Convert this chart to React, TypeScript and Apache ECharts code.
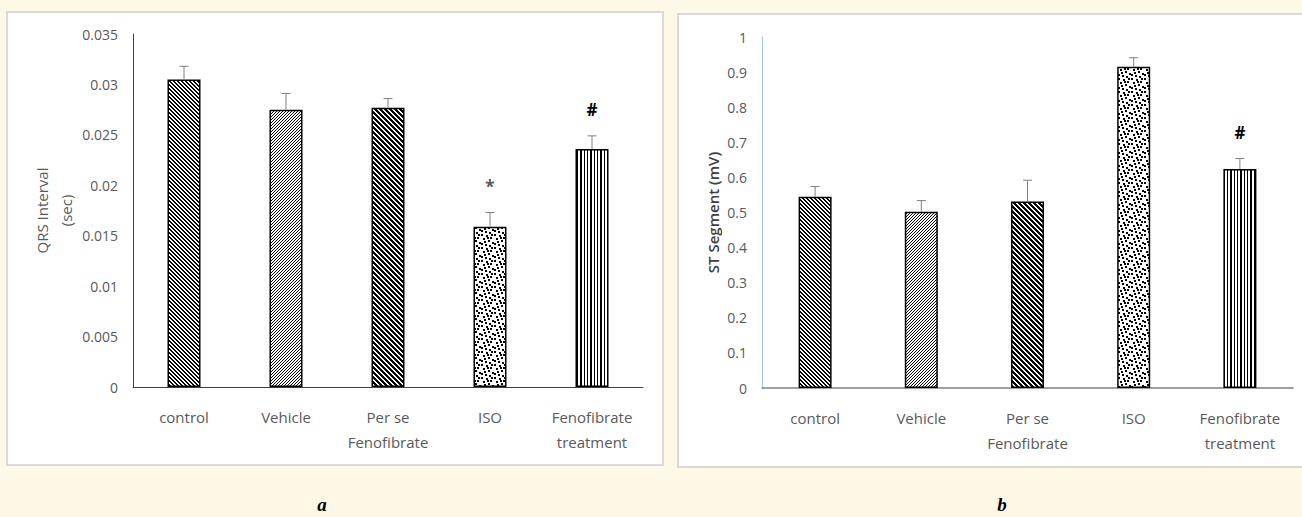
import React, { useEffect, useRef } from "react";
import * as echarts from "echarts";

const categories = ["control", "Vehicle", "Per se\nFenofibrate", "ISO", "Fenofibrate\ntreatment"];

const qrsValues = [0.0305, 0.0275, 0.0277, 0.0159, 0.0236];
const qrsErrors = [0.0013, 0.0016, 0.0009, 0.0014, 0.0013];
const qrsMarks = ["", "", "", "*", "#"];
const qrsMin = 0;
const qrsMax = 0.035;
const qrsInterval = 0.005;

const stValues = [0.545, 0.502, 0.531, 0.915, 0.624];
const stErrors = [0.029, 0.032, 0.061, 0.026, 0.03];
const stMarks = ["", "", "", "", "#"];
const stMin = 0;
const stMax = 1;
const stInterval = 0.1;

const FONT = '"Open Sans", "Noto Sans", sans-serif';

function makeTile(w: number, h: number, isBlack: (x: number, y: number) => boolean) {
  const c = document.createElement("canvas");
  c.width = w;
  c.height = h;
  const ctx = c.getContext("2d")!;
  ctx.fillStyle = "#ffffff";
  ctx.fillRect(0, 0, w, h);
  ctx.fillStyle = "#000000";
  for (let y = 0; y < h; y++) {
    for (let x = 0; x < w; x++) {
      if (isBlack(x, y)) ctx.fillRect(x, y, 1, 1);
    }
  }
  return { image: c as any, repeat: "repeat", imageWidth: w, imageHeight: h };
}

function makePatterns() {
  const mod = (a: number, n: number) => ((a % n) + n) % n;
  const control = makeTile(8, 8, (x, y) => mod(x - y, 4) < 2);
  const vehicle = makeTile(6, 6, (x, y) => mod(x + y, 3) === 0);
  const perse = makeTile(10, 10, (x, y) => mod(x - y, 5) < 3);
  const dots = [
    [0, 0], [5, 1], [9, 3], [2, 4], [7, 6], [11, 8], [0, 9], [4, 10], [8, 11], [3, 7], [10, 0], [6, 3],
  ];
  const iso = makeTile(13, 13, (x, y) =>
    dots.some(([dx, dy]) => mod(x - dx, 13) < 2 && mod(y - dy, 13) < 2)
  );
  const cols = [0, 1, 4, 7];
  const feno = makeTile(10, 4, (x) => cols.includes(x));
  return [control, vehicle, perse, iso, feno];
}

function errorSeries(
  axisIndex: number,
  values: number[],
  errors: number[],
  marks: string[],
  markColors: string[]
) {
  return {
    type: "custom",
    xAxisIndex: axisIndex,
    yAxisIndex: axisIndex,
    z: 5,
    data: values.map((v, i) => [i, v, v + errors[i]]),
    renderItem: (params: any, api: any) => {
      const i = params.dataIndex;
      const x = api.value(0);
      const lo = api.coord([x, api.value(1)]);
      const hi = api.coord([x, api.value(2)]);
      const stroke = { stroke: "#808080", lineWidth: 1 };
      const children: any[] = [
        { type: "line", shape: { x1: lo[0], y1: lo[1], x2: hi[0], y2: hi[1] }, style: stroke },
        { type: "line", shape: { x1: hi[0] - 4.5, y1: hi[1], x2: hi[0] + 4.5, y2: hi[1] }, style: stroke },
      ];
      if (marks[i]) {
        children.push({
          type: "text",
          style: {
            text: marks[i],
            x: hi[0],
            y: hi[1] - 26,
            align: "center",
            verticalAlign: "middle",
            fill: markColors[i],
            font: `bold 17px ${FONT}`,
          },
        });
      }
      return { type: "group", children };
    },
  };
}

export default function App() {
  const ref = useRef<HTMLDivElement>(null);

  useEffect(() => {
    if (!ref.current) return;
    const chart = echarts.init(ref.current, undefined, { renderer: "svg" });
    const patterns = makePatterns();

    const barData = (vals: number[]) =>
      vals.map((v, i) => ({
        value: v,
        itemStyle: { color: patterns[i] as any, borderColor: "#000", borderWidth: 1.5 },
      }));

    const xLabel = {
      color: "#595959",
      fontFamily: FONT,
      fontSize: 15,
      lineHeight: 25,
      margin: 17,
      interval: 0,
    };
    const yLabel = { color: "#595959", fontFamily: FONT, fontSize: 14, margin: 15 };

    const option: any = {
      animation: false,
      backgroundColor: "#fef9e6",
      graphic: [
        {
          type: "rect",
          z: -10,
          shape: { x: 7, y: 12, width: 656, height: 453 },
          style: { fill: "#ffffff", stroke: "#d9d9d9", lineWidth: 2 },
        },
        {
          type: "rect",
          z: -10,
          shape: { x: 678, y: 14, width: 640, height: 453 },
          style: { fill: "#ffffff", stroke: "#d9d9d9", lineWidth: 2 },
        },
        {
          type: "text",
          style: {
            text: "a",
            x: 322,
            y: 504,
            align: "center",
            verticalAlign: "middle",
            fill: "#000",
            font: 'italic bold 19px "Liberation Serif", "DejaVu Serif", serif',
          },
        },
        {
          type: "text",
          style: {
            text: "b",
            x: 1002,
            y: 504,
            align: "center",
            verticalAlign: "middle",
            fill: "#000",
            font: 'italic bold 19px "Liberation Serif", "DejaVu Serif", serif',
          },
        },
      ],
      grid: [
        { left: 133, top: 34, width: 510, height: 353, containLabel: false },
        { left: 762, top: 37, width: 531, height: 351, containLabel: false },
      ],
      xAxis: [
        {
          type: "category",
          gridIndex: 0,
          data: categories,
          axisLine: { lineStyle: { color: "#404040", width: 1 } },
          axisTick: { show: false },
          axisLabel: xLabel,
        },
        {
          type: "category",
          gridIndex: 1,
          data: categories,
          axisLine: { lineStyle: { color: "#7f7f7f", width: 1.5 } },
          axisTick: { show: false },
          axisLabel: xLabel,
        },
      ],
      yAxis: [
        {
          type: "value",
          gridIndex: 0,
          min: qrsMin,
          max: qrsMax,
          interval: qrsInterval,
          axisLine: { show: true, lineStyle: { color: "#404040", width: 1 } },
          axisTick: { show: false },
          splitLine: { show: false },
          axisLabel: yLabel,
          name: "QRS Interval\n(sec)",
          nameLocation: "middle",
          nameRotate: 90,
          nameGap: 55,
          nameTextStyle: { color: "#595959", fontFamily: FONT, fontSize: 15, lineHeight: 24 },
        },
        {
          type: "value",
          gridIndex: 1,
          min: stMin,
          max: stMax,
          interval: stInterval,
          axisLine: { show: true, lineStyle: { color: "#9dc3e6", width: 1 } },
          axisTick: { show: false },
          splitLine: { show: false },
          axisLabel: yLabel,
          name: "ST Segment (mV)",
          nameLocation: "middle",
          nameRotate: 90,
          nameGap: 42,
          nameTextStyle: { color: "#404040", fontFamily: FONT, fontSize: 15, fontWeight: 600 },
        },
      ],
      series: [
        {
          type: "bar",
          xAxisIndex: 0,
          yAxisIndex: 0,
          barWidth: 33,
          data: barData(qrsValues),
        },
        {
          type: "bar",
          xAxisIndex: 1,
          yAxisIndex: 1,
          barWidth: 33,
          data: barData(stValues),
        },
        errorSeries(0, qrsValues, qrsErrors, qrsMarks, ["", "", "", "#595959", "#000"]),
        errorSeries(1, stValues, stErrors, stMarks, ["", "", "", "", "#000"]),
      ],
    };

    chart.setOption(option);
    return () => chart.dispose();
  }, []);

  return (
    <div
      ref={ref}
      style={{ position: "absolute", left: 0, top: 0, width: 1302, height: 517 }}
    />
  );
}
